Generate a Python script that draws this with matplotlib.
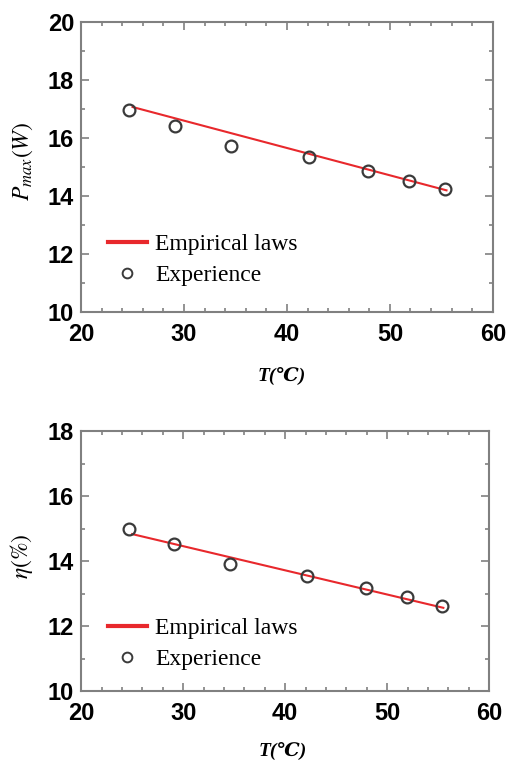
import numpy as np
import matplotlib
matplotlib.use("Agg")
import matplotlib.pyplot as plt
from matplotlib.ticker import MultipleLocator
from matplotlib.lines import Line2D

plt.rcParams['mathtext.fontset'] = 'stix'

# measured temperatures (deg C)
temp = [24.7, 29.1, 34.6, 42.1, 47.9, 51.9, 55.4]
# experimental max power (W) and efficiency (%)
p_max = [16.97, 16.41, 15.73, 15.33, 14.86, 14.52, 14.25]
eta = [14.99, 14.51, 13.91, 13.53, 13.16, 12.89, 12.62]
# empirical law (straight lines, end points)
fit_temp = [25.0, 55.5]
fit_p = [17.06, 14.19]
fit_eta = [14.83, 12.56]

serif = ['Liberation Serif', 'DejaVu Serif']
red = '#e8282c'
circ = '#3a3a3a'

fig = plt.figure(figsize=(5.07, 7.6), dpi=100)
ax1 = fig.add_axes([0.160, 0.5895, 0.812, 0.382])
ax2 = fig.add_axes([0.160, 0.0908, 0.805, 0.342])

panels = [
    (ax1, p_max, fit_p, (10, 20), r'$P_{max}(W)$', 0.488, -0.19, 0.52, 0.271),
    (ax2, eta, fit_eta, (10, 18), r'$\eta(\%)$', 0.493, -0.196, 0.52, 0.281),
]

for ax, yv, fit_y, ylim, ylab, xlab_x, xlab_y, ylab_y, leg_y in panels:
    ax.plot(fit_temp, fit_y, color=red, lw=1.5)
    ax.plot(temp, yv, 'o', ms=8.5, mfc='none', mec=circ, mew=1.6)
    ax.set_xlim(20, 60)
    ax.set_ylim(*ylim)
    ax.xaxis.set_major_locator(MultipleLocator(10))
    ax.xaxis.set_minor_locator(MultipleLocator(2))
    ax.yaxis.set_major_locator(MultipleLocator(2))
    ax.yaxis.set_minor_locator(MultipleLocator(1))
    ax.tick_params(which='both', direction='in', top=True, right=True,
                   color='#808080', width=1.2)
    ax.tick_params(which='major', length=6)
    ax.tick_params(which='minor', length=3)
    ax.tick_params(axis='x', pad=8)
    ax.tick_params(axis='y', pad=5)
    for lab in ax.get_xticklabels() + ax.get_yticklabels():
        lab.set_fontfamily('Liberation Sans')
        lab.set_fontweight('bold')
        lab.set_fontsize(17)
    for sp in ax.spines.values():
        sp.set_color('#808080')
        sp.set_linewidth(1.5)

    ax.set_xlabel('T(℃)', family=serif, style='italic', weight='bold',
                  fontsize=14)
    ax.xaxis.set_label_coords(xlab_x, xlab_y)
    ax.set_ylabel(ylab, fontsize=17)
    ax.yaxis.set_label_coords(-0.112, ylab_y)

    handles = [
        Line2D([], [], color=red, lw=3),
        Line2D([], [], ls='none', marker='o', ms=7, mfc='none', mec=circ,
               mew=1.4),
    ]
    ax.legend(handles, ['Empirical laws', 'Experience'], loc='upper left',
              bbox_to_anchor=(0.065, leg_y), frameon=False,
              borderpad=0, borderaxespad=0, handlelength=1.65,
              handletextpad=0.35, labelspacing=0.4,
              prop={'family': serif, 'size': 17})

fig.savefig('out.png', dpi=100)
